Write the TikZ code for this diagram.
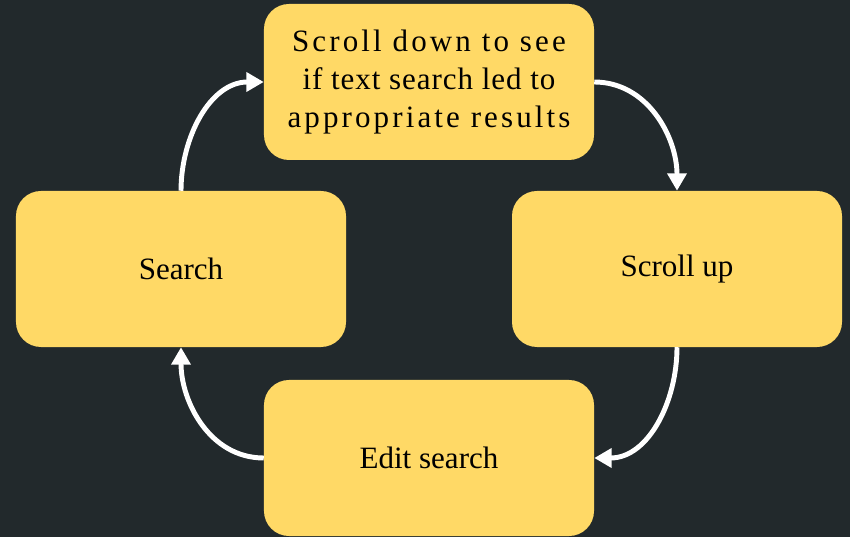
\documentclass[tikz,border=0pt]{standalone}
\usepackage{fontspec}
\setmainfont{Liberation Serif}
\usepackage{tikz}
\usetikzlibrary{positioning,arrows.meta}

\begin{document}
\begin{tikzpicture}[
		x=0.03cm,y=0.03cm,
		>={Triangle[length=0.52cm,width=0.56cm]},
		line cap=butt,line join=round,
		font=\fontsize{26.5}{32.5}\selectfont
		]
		% ---- colors
		\definecolor{bgDark}{HTML}{22292C}
		\definecolor{boxYellow}{HTML}{FFD966}
		
		% ---- background + size
		\fill[bgDark] (0,0) rectangle (850,537);
		\useasboundingbox (0,0) rectangle (850,537);
		
		% ---- styles
		\tikzset{
			stepbox/.style={fill=boxYellow, rounded corners=0.75cm, minimum width=9.9cm, minimum height=4.68cm, inner sep=0pt, align=center, text=black},
			loopArrow/.style={white, ->, line width=4.2pt}
		}
		
		% ---- boxes
		\node[stepbox] (ScrollDown) at (429,455) {%
			{\addfontfeature{LetterSpace=10}Scroll down to see}\\
			{\addfontfeature{LetterSpace=3}if text search led to}\\
			{\addfontfeature{LetterSpace=10}appropriate results}};
		\node[stepbox] (Search) at (181,268) {Search};
		\node[stepbox] (ScrollUp) at (677,268) {Scroll up};
		\node[stepbox] (EditSearch) at (429,79) {Edit search};
		
		% ---- cycle arrows (white)
		\draw[loopArrow] (Search.north) to[out=90,in=180] (ScrollDown.west);
		\draw[loopArrow] (ScrollDown.east) to[out=0,in=90] (ScrollUp.north);
		\draw[loopArrow] (ScrollUp.south) to[out=-90,in=0] (EditSearch.east);
		\draw[loopArrow] (EditSearch.west) to[out=180,in=-90] (Search.south);
		
	\end{tikzpicture}
\end{document}
